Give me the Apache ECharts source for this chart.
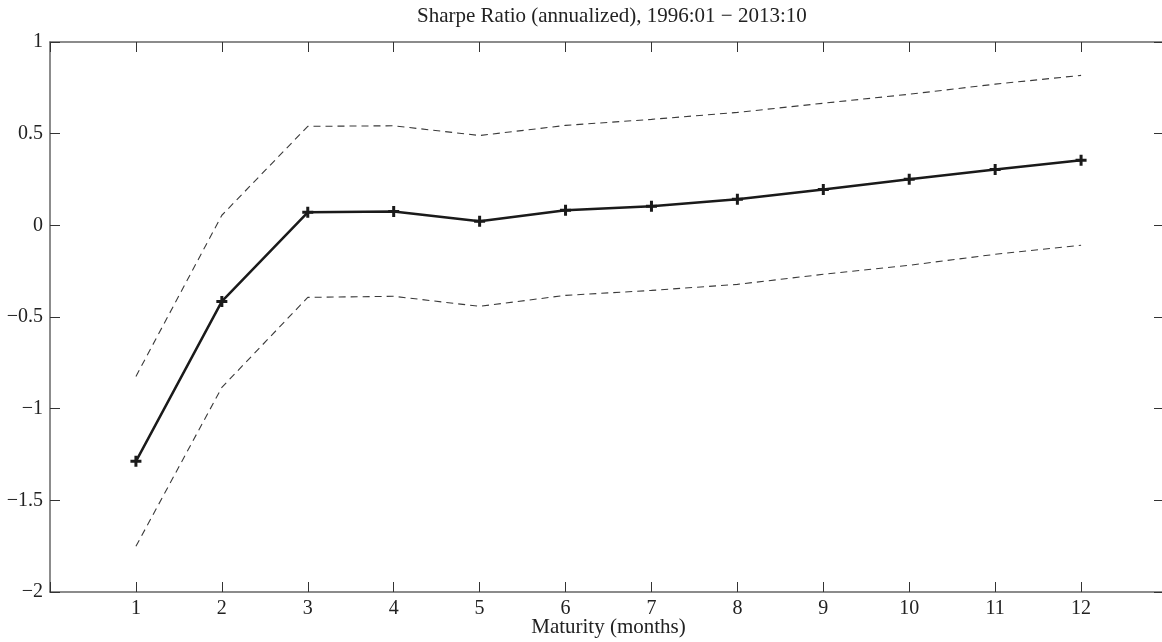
<!DOCTYPE html>
<html><head><meta charset="utf-8">
<script src="https://cdn.jsdelivr.net/npm/echarts@6/dist/echarts.min.js"></script>
<style>html,body{margin:0;padding:0;background:#fff}#c{width:1162px;height:642px}</style>
</head><body><div id="c"></div>
<script>
const maturities = [1,2,3,4,5,6,7,8,9,10,11,12];
const sharpe = [-1.287,-0.415,0.071,0.076,0.022,0.082,0.104,0.142,0.196,0.251,0.305,0.355];
const upperBand = [-0.824,0.055,0.54,0.543,0.49,0.545,0.578,0.616,0.666,0.715,0.77,0.818];
const lowerBand = [-1.751,-0.884,-0.393,-0.387,-0.442,-0.382,-0.355,-0.322,-0.267,-0.218,-0.158,-0.109];
const yTicks = [-2,-1.5,-1,-0.5,0,0.5,1];
const titleText = 'Sharpe Ratio (annualized), 1996:01 \u2212 2013:10';
const xName = 'Maturity (months)';

const pair = a => maturities.map((m,i)=>[m,a[i]]);
const font = 'Liberation Serif';
const fmtY = v => { const s = String(v); return v < 0 ? '\u2212' + s.slice(1) : s; };
const plus = 'path://M4,0H7V4H11V7H7V11H4V7H0V4H4Z';
const tickStyle = {show:true,inside:true,length:10,lineStyle:{color:'#333',width:1}};
const lineSt = {show:true,onZero:false,lineStyle:{color:'#666',width:1.5}};

const chart = echarts.init(document.getElementById('c'));
chart.setOption({
  animation:false,
  backgroundColor:'#fff',
  title:{text:titleText,left:412,top:1,textStyle:{fontFamily:font,fontSize:21,fontWeight:'normal',color:'#222'}},
  grid:{left:50,top:42,width:1117,height:550,containLabel:false,outerBoundsMode:'none'},
  xAxis:[{
    type:'value',min:0,max:13,interval:1,
    name:xName,nameLocation:'middle',nameGap:25,nameMoveOverlap:false,
    nameTextStyle:{fontFamily:font,fontSize:21,color:'#222'},
    axisLine:lineSt,axisTick:tickStyle,
    axisLabel:{fontFamily:font,fontSize:20,color:'#222',margin:7,
      formatter:v=>(v>=1&&v<=12)?String(v):''},
    splitLine:{show:false}
  },{
    type:'value',position:'top',min:0,max:13,interval:1,
    axisLine:lineSt,axisTick:tickStyle,
    axisLabel:{show:false},splitLine:{show:false}
  }],
  yAxis:[{
    type:'value',min:-2,max:1,interval:0.5,
    axisLine:lineSt,axisTick:tickStyle,
    axisLabel:{fontFamily:font,fontSize:20,color:'#222',margin:7,
      formatter:v=>yTicks.includes(v)?fmtY(v):''},
    splitLine:{show:false}
  },{
    type:'value',position:'right',min:-2,max:1,interval:0.5,
    axisLine:lineSt,axisTick:{show:true,inside:true,length:13,lineStyle:{color:'#333',width:1}},
    axisLabel:{show:false},splitLine:{show:false}
  }],
  series:[
    {type:'line',data:pair(upperBand),symbol:'none',lineStyle:{color:'#3a3a3a',width:1.1,type:[7,5]}},
    {type:'line',data:pair(lowerBand),symbol:'none',lineStyle:{color:'#3a3a3a',width:1.1,type:[7,5]}},
    {type:'line',data:pair(sharpe),symbol:plus,symbolSize:11,
      itemStyle:{color:'#1a1a1a'},lineStyle:{color:'#1a1a1a',width:2.5},z:5}
  ]
});
</script></body></html>
